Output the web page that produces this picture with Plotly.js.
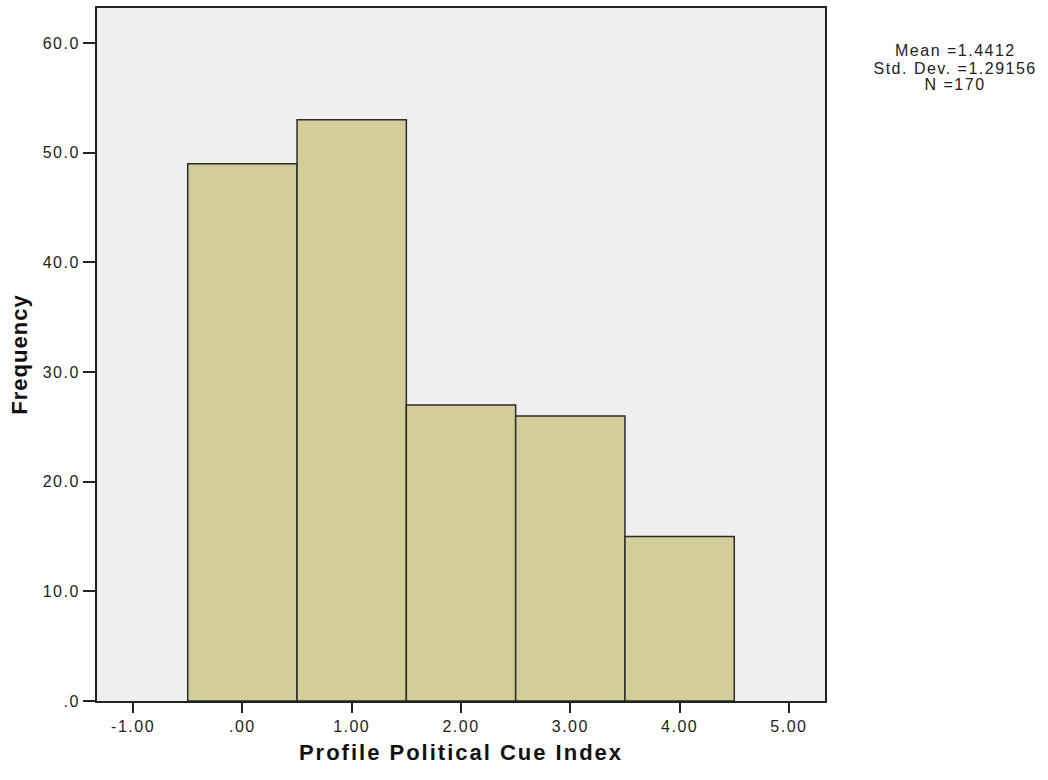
<!DOCTYPE html>
<html>
<head>
<meta charset="utf-8">
<script src="https://cdn.plot.ly/plotly-3.0.1.min.js"></script>
<style>
html,body{margin:0;padding:0;background:#fff;}
#chart{width:1048px;height:780px;}
#chart .xtick text, #chart .ytick text { letter-spacing: 1.5px; }
#chart .g-xtitle text { letter-spacing: 2px; }
#chart .g-ytitle text { letter-spacing: 1px; }
#chart .annotation-text { letter-spacing: 1.5px; }
</style>
</head>
<body>
<div id="chart"></div>
<script>
const binCenters = [0, 1, 2, 3, 4];
const frequencies = [49, 53, 27, 26, 15];
const xTickVals = [-1, 0, 1, 2, 3, 4, 5];
const xTickText = ["-1.00", ".00", "1.00", "2.00", "3.00", "4.00", "5.00"];
const yTickVals = [0, 10, 20, 30, 40, 50, 60];
const yTickText = [".0", "10.0", "20.0", "30.0", "40.0", "50.0", "60.0"];
const statsLines = ["Mean =1.4412", "Std. Dev. =1.29156", "N =170"];

const font = "Liberation Sans, Arial, sans-serif";
const trace = {
  type: "bar",
  x: binCenters,
  y: frequencies,
  width: 1,
  marker: {color: "#D3CE99", line: {color: "#2b2b2b", width: 1.5}},
  hoverinfo: "x+y"
};
const statsY = [0.938, 0.913, 0.889];
const annotations = statsLines.map((t, i) => ({
  xref: "paper", yref: "paper",
  x: 1.1786, y: statsY[i], xanchor: "center", yanchor: "middle",
  text: t, showarrow: false,
  font: {family: font, size: 16, color: "#222"}
}));
const layout = {
  width: 1048, height: 780,
  margin: {l: 97, r: 223, t: 8, b: 79, pad: 0},
  paper_bgcolor: "#ffffff",
  plot_bgcolor: "#EFEFEF",
  showlegend: false,
  bargap: 0,
  font: {family: font, size: 16, color: "#222"},
  xaxis: {
    range: [-1.33, 5.33],
    tickvals: xTickVals, ticktext: xTickText,
    ticks: "outside", ticklen: 10, tickwidth: 2, tickcolor: "#222",
    showline: true, linecolor: "#222", linewidth: 2, mirror: true,
    showgrid: false, zeroline: false,
    tickfont: {family: font, size: 16, color: "#222"},
    title: {text: "<b>Profile Political Cue Index</b>", font: {family: font, size: 22, color: "#111"}, standoff: 10}
  },
  yaxis: {
    range: [0, 63.2],
    tickvals: yTickVals, ticktext: yTickText,
    ticks: "outside", ticklen: 12, tickwidth: 2, tickcolor: "#222",
    showline: true, linecolor: "#222", linewidth: 2, mirror: true,
    showgrid: false, zeroline: false,
    tickfont: {family: font, size: 16, color: "#222"},
    title: {text: "<b>Frequency</b>", font: {family: font, size: 22, color: "#111"}, standoff: 15}
  },
  annotations: annotations
};
Plotly.newPlot("chart", [trace], layout, {displayModeBar: false, staticPlot: true});
</script>
</body>
</html>
